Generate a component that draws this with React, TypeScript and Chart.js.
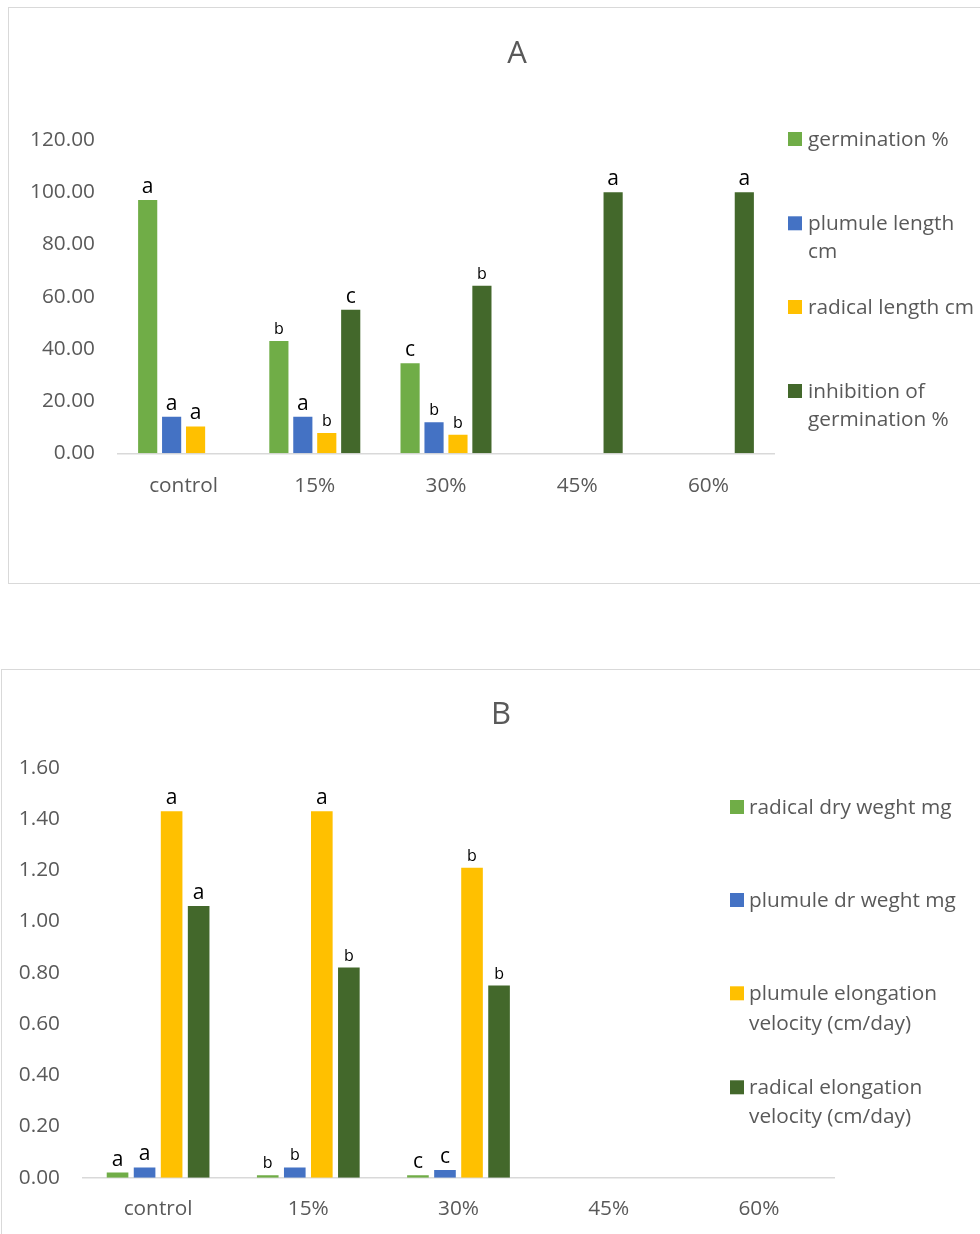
import React, { useEffect, useRef } from "react";
import { Chart, registerables } from "chart.js";

Chart.register(...registerables);

// ---------- shared categories ----------
const CATEGORIES = ["control", "15%", "30%", "45%", "60%"];

// ---------- panel A: germination and lengths ----------
const A_Y_TICKS = [0, 20, 40, 60, 80, 100, 120];
const GERMINATION = [97.0, 43.0, 34.5, null, null];
const PLUMULE_LENGTH = [14.0, 14.0, 11.9, null, null];
const RADICAL_LENGTH = [10.3, 7.8, 7.1, null, null];
const INHIBITION = [null, 55.0, 64.2, 100, 100];

const GERMINATION_LETTERS = ["a", "b", "c", "", ""];
const PLUMULE_LENGTH_LETTERS = ["a", "a", "b", "", ""];
const RADICAL_LENGTH_LETTERS = ["a", "b", "b", "", ""];
const INHIBITION_LETTERS = ["", "c", "b", "a", "a"];

// ---------- panel B: dry weights and elongation velocities ----------
const B_Y_TICKS = [0, 0.2, 0.4, 0.6, 0.8, 1.0, 1.2, 1.4, 1.6];
const RADICAL_DRY_WEIGHT = [0.02, 0.01, 0.01, null, null];
const PLUMULE_DRY_WEIGHT = [0.04, 0.04, 0.03, null, null];
const PLUMULE_ELONGATION = [1.43, 1.43, 1.21, null, null];
const RADICAL_ELONGATION = [1.06, 0.82, 0.75, null, null];

const RADICAL_DRY_LETTERS = ["a", "b", "c", "", ""];
const PLUMULE_DRY_LETTERS = ["a", "b", "c", "", ""];
const PLUMULE_ELONGATION_LETTERS = ["a", "a", "b", "", ""];
const RADICAL_ELONGATION_LETTERS = ["a", "b", "b", "", ""];

// ---------- styling ----------
const FONT = "'Open Sans', 'DejaVu Sans', sans-serif";
const TEXT_SIZE = 20.8;
const TEXT_GREY = "#595959";
const BORDER_GREY = "#d9d9d9";
const LIGHT_GREEN = "#70AD47";
const BLUE = "#4472C4";
const GOLD = "#FFC000";
const DARK_GREEN = "#43682B";

// significance letters: "b" marks are set in a smaller type
const letterSize = (letter: string) => (letter === "b" ? 16 : 21);

type SeriesSpec = {
  label: string;
  legendLines: string[];
  values: (number | null)[];
  letters: string[];
  color: string;
};

type PanelSpec = {
  title: string;
  titleX: number;
  titleBaseline: number;
  left: number;
  top: number;
  width: number;
  height: number;
  yTicks: number[];
  yAxisWidth: number;
  xAxisHeight: number;
  padding: { top: number; right: number; bottom: number; left: number };
  categoryPercentage: number;
  xLabelPadding: number;
  legendSquareX: number;
  legendTextX: number;
  legendRows: number[][]; // line centres per entry
  series: SeriesSpec[];
};

const PANEL_A: PanelSpec = {
  title: "A",
  titleX: 517,
  titleBaseline: 62.5,
  left: 0,
  top: 0,
  width: 980,
  height: 600,
  yTicks: A_Y_TICKS,
  yAxisWidth: 118,
  xAxisHeight: 60,
  padding: { top: 140, right: 206, bottom: 600 - 453.3 - 60, left: 0 },
  categoryPercentage: 0.73,
  xLabelPadding: 20,
  legendSquareX: 788,
  legendTextX: 808,
  legendRows: [[139], [223.3, 251.5], [307], [391, 419.3]],
  series: [
    { label: "germination %", legendLines: ["germination %"], values: GERMINATION, letters: GERMINATION_LETTERS, color: LIGHT_GREEN },
    { label: "plumule length cm", legendLines: ["plumule length", "cm"], values: PLUMULE_LENGTH, letters: PLUMULE_LENGTH_LETTERS, color: BLUE },
    { label: "radical length cm", legendLines: ["radical length cm"], values: RADICAL_LENGTH, letters: RADICAL_LENGTH_LETTERS, color: GOLD },
    { label: "inhibition of germination %", legendLines: ["inhibition of", "germination %"], values: INHIBITION, letters: INHIBITION_LETTERS, color: DARK_GREEN },
  ],
};

const PANEL_B: PanelSpec = {
  title: "B",
  titleX: 501,
  titleBaseline: 64.3,
  left: 0,
  top: 660,
  width: 980,
  height: 574,
  yTicks: B_Y_TICKS,
  yAxisWidth: 83,
  xAxisHeight: 50,
  padding: { top: 107.7, right: 146, bottom: 574 - 517.7 - 50, left: 0 },
  categoryPercentage: 0.72,
  xLabelPadding: 19,
  legendSquareX: 730,
  legendTextX: 749,
  legendRows: [[147], [240], [333.3, 362.7], [427.3, 455.7]],
  series: [
    { label: "radical dry weght mg", legendLines: ["radical dry weght mg"], values: RADICAL_DRY_WEIGHT, letters: RADICAL_DRY_LETTERS, color: LIGHT_GREEN },
    { label: "plumule dr weght mg", legendLines: ["plumule dr weght mg"], values: PLUMULE_DRY_WEIGHT, letters: PLUMULE_DRY_LETTERS, color: BLUE },
    { label: "plumule elongation velocity (cm/day)", legendLines: ["plumule elongation", "velocity (cm/day)"], values: PLUMULE_ELONGATION, letters: PLUMULE_ELONGATION_LETTERS, color: GOLD },
    { label: "radical elongation velocity (cm/day)", legendLines: ["radical elongation", "velocity (cm/day)"], values: RADICAL_ELONGATION, letters: RADICAL_ELONGATION_LETTERS, color: DARK_GREEN },
  ],
};

function BarPanel({ spec }: { spec: PanelSpec }) {
  const canvasRef = useRef<HTMLCanvasElement | null>(null);

  useEffect(() => {
    const canvas = canvasRef.current;
    if (!canvas) return;

    // title, wrapped legend and significance letters
    const annotations = {
      id: "panelAnnotations",
      afterDatasetsDraw(chart: any) {
        const ctx = chart.ctx;
        ctx.save();

        ctx.fillStyle = "#000000";
        ctx.textAlign = "center";
        ctx.textBaseline = "alphabetic";
        spec.series.forEach((s, di) => {
          const meta = chart.getDatasetMeta(di);
          s.letters.forEach((letter, i) => {
            const bar = meta.data[i];
            if (!letter || !bar || s.values[i] == null) return;
            ctx.font = `${letterSize(letter)}px ${FONT}`;
            ctx.fillText(letter, bar.x, bar.y - 7);
          });
        });

        ctx.fillStyle = TEXT_GREY;
        ctx.font = `31px ${FONT}`;
        ctx.fillText(spec.title, spec.titleX, spec.titleBaseline);

        ctx.textAlign = "left";
        ctx.textBaseline = "middle";
        ctx.font = `${TEXT_SIZE}px ${FONT}`;
        spec.series.forEach((s, di) => {
          const rows = spec.legendRows[di];
          ctx.fillStyle = s.color;
          ctx.fillRect(spec.legendSquareX, rows[0] - 7, 14, 14);
          ctx.fillStyle = TEXT_GREY;
          s.legendLines.forEach((line, li) => {
            ctx.fillText(line, spec.legendTextX, rows[li] + 1);
          });
        });

        ctx.restore();
      },
    };

    const chart = new Chart(canvas, {
      type: "bar",
      data: {
        labels: CATEGORIES,
        datasets: spec.series.map((s) => ({
          label: s.label,
          data: s.values,
          backgroundColor: s.color,
          borderWidth: 0,
          categoryPercentage: spec.categoryPercentage,
          barPercentage: 0.8,
        })),
      },
      options: {
        responsive: false,
        animation: false,
        layout: { padding: spec.padding },
        plugins: {
          legend: { display: false },
          title: { display: false },
          tooltip: { enabled: false },
        },
        scales: {
          x: {
            grid: { display: false, drawTicks: false },
            border: { display: true, color: BORDER_GREY, width: 1.5 },
            ticks: {
              color: TEXT_GREY,
              font: { family: FONT, size: TEXT_SIZE },
              padding: spec.xLabelPadding,
              maxRotation: 0,
              autoSkip: false,
            },
            afterFit: (scale: any) => {
              scale.height = spec.xAxisHeight;
            },
          },
          y: {
            min: spec.yTicks[0],
            max: spec.yTicks[spec.yTicks.length - 1],
            grid: { display: false, drawTicks: false },
            border: { display: false },
            afterBuildTicks: (scale: any) => {
              scale.ticks = spec.yTicks.map((v) => ({ value: v }));
            },
            ticks: {
              color: TEXT_GREY,
              font: { family: FONT, size: TEXT_SIZE },
              padding: 23,
              callback: (v: any) => Number(v).toFixed(2),
            },
            afterFit: (scale: any) => {
              scale.width = spec.yAxisWidth;
            },
          },
        },
      },
      plugins: [annotations],
    });

    return () => chart.destroy();
  }, [spec]);

  return (
    <canvas
      ref={canvasRef}
      width={spec.width}
      height={spec.height}
      style={{
        position: "absolute",
        left: spec.left,
        top: spec.top,
        width: spec.width,
        height: spec.height,
      }}
    />
  );
}

export default function App() {
  return (
    <div
      style={{
        position: "absolute",
        left: 0,
        top: 0,
        width: 980,
        height: 1234,
        overflow: "hidden",
        background: "#ffffff",
      }}
    >
      <div
        style={{
          position: "absolute",
          left: 8,
          top: 7,
          width: 1000,
          height: 577,
          border: `1.5px solid ${BORDER_GREY}`,
          boxSizing: "border-box",
        }}
      />
      <div
        style={{
          position: "absolute",
          left: 1,
          top: 669,
          width: 1000,
          height: 620,
          border: `1.5px solid ${BORDER_GREY}`,
          boxSizing: "border-box",
        }}
      />
      <BarPanel spec={PANEL_A} />
      <BarPanel spec={PANEL_B} />
    </div>
  );
}
